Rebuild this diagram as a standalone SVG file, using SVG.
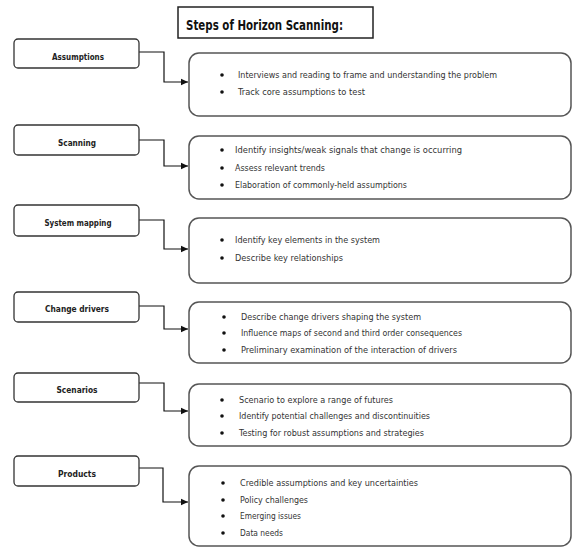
<svg xmlns="http://www.w3.org/2000/svg" width="574" height="548" viewBox="0 0 574 548">
<defs>
<marker id="ah" markerWidth="8" markerHeight="8" refX="7" refY="4" orient="auto" markerUnits="userSpaceOnUse">
<path d="M0,0.8 L7,4 L0,7.2 Z" fill="#111"/>
</marker>
<style>
.title{font-family:"DejaVu Sans Condensed","Liberation Sans Narrow","Liberation Sans",sans-serif;font-weight:bold;font-size:14px;fill:#111}
.tbox{fill:#fff;stroke:#222;stroke-width:1.5}
.lbox{fill:#fff;stroke:#333;stroke-width:1.3}
.cbox{fill:#fff;stroke:#555;stroke-width:1.5}
.lbl{font-family:"DejaVu Sans Condensed","Liberation Sans",sans-serif;font-weight:bold;font-size:9.5px;fill:#222;text-anchor:middle}
.txt{font-family:"DejaVu Sans Condensed","Liberation Sans",sans-serif;font-size:9.5px;fill:#333}
.bul{fill:#111}
.conn{fill:none;stroke:#111;stroke-width:1.2}
</style>
</defs>
<rect width="574" height="548" fill="#fff"/>
<g id="title">
<rect class="tbox" x="178" y="7" width="195" height="31"/>
<text class="title" x="186" y="30" textLength="157" lengthAdjust="spacingAndGlyphs">Steps of Horizon Scanning:</text>
</g>
<g id="connectors">
<path class="conn" d="M139,52 H164 V82 H188" marker-end="url(#ah)"/>
<path class="conn" d="M139,140 H164 V166 H188" marker-end="url(#ah)"/>
<path class="conn" d="M139,220 H164 V249 H188" marker-end="url(#ah)"/>
<path class="conn" d="M139,306 H164 V329 H188" marker-end="url(#ah)"/>
<path class="conn" d="M139,383 H164 V411 H188" marker-end="url(#ah)"/>
<path class="conn" d="M139,468 H163 V502 H188" marker-end="url(#ah)"/>
</g>
<g id="assumptions">
<rect class="lbox" x="14" y="39" width="125" height="29" rx="4"/>
<text class="lbl" x="78" y="60" textLength="52" lengthAdjust="spacingAndGlyphs">Assumptions</text>
</g>
<g id="assumptions-detail">
<rect class="cbox" x="189" y="53" width="382" height="63" rx="10"/>
<circle class="bul" cx="222" cy="75" r="1.8"/>
<circle class="bul" cx="222" cy="92" r="1.8"/>
<text class="txt" x="238" y="78" textLength="259" lengthAdjust="spacingAndGlyphs">Interviews and reading to frame and understanding  the problem</text>
<text class="txt" x="238" y="95" textLength="127" lengthAdjust="spacingAndGlyphs">Track core assumptions  to test</text>
</g>
<g id="scanning">
<rect class="lbox" x="14" y="125" width="125" height="30" rx="4"/>
<text class="lbl" x="77" y="146" textLength="38" lengthAdjust="spacingAndGlyphs">Scanning</text>
</g>
<g id="scanning-detail">
<rect class="cbox" x="189" y="136" width="382" height="63" rx="10"/>
<circle class="bul" cx="222" cy="150" r="1.8"/>
<circle class="bul" cx="222" cy="168" r="1.8"/>
<circle class="bul" cx="222" cy="185" r="1.8"/>
<text class="txt" x="235" y="153" textLength="227" lengthAdjust="spacingAndGlyphs">Identify insights/weak signals that change is occurring</text>
<text class="txt" x="235" y="171" textLength="90" lengthAdjust="spacingAndGlyphs">Assess relevant trends</text>
<text class="txt" x="235" y="188" textLength="172" lengthAdjust="spacingAndGlyphs">Elaboration of commonly-held  assumptions</text>
</g>
<g id="system-mapping">
<rect class="lbox" x="14" y="205" width="125" height="31" rx="4"/>
<text class="lbl" x="78" y="226" textLength="67" lengthAdjust="spacingAndGlyphs">System mapping</text>
</g>
<g id="system-mapping-detail">
<rect class="cbox" x="189" y="218" width="382" height="65" rx="10"/>
<circle class="bul" cx="222" cy="240" r="1.8"/>
<circle class="bul" cx="222" cy="258" r="1.8"/>
<text class="txt" x="235" y="243" textLength="145" lengthAdjust="spacingAndGlyphs">Identify key elements in the system</text>
<text class="txt" x="235" y="261" textLength="108" lengthAdjust="spacingAndGlyphs">Describe key relationships</text>
</g>
<g id="change-drivers">
<rect class="lbox" x="14" y="292" width="125" height="30" rx="4"/>
<text class="lbl" x="77" y="312" textLength="64" lengthAdjust="spacingAndGlyphs">Change drivers</text>
</g>
<g id="change-drivers-detail">
<rect class="cbox" x="189" y="302" width="382" height="61" rx="10"/>
<circle class="bul" cx="224" cy="317" r="1.8"/>
<circle class="bul" cx="224" cy="333" r="1.8"/>
<circle class="bul" cx="224" cy="350" r="1.8"/>
<text class="txt" x="241" y="320" textLength="180" lengthAdjust="spacingAndGlyphs">Describe change drivers shaping the system</text>
<text class="txt" x="241" y="336" textLength="221" lengthAdjust="spacingAndGlyphs">Influence maps of second and third order consequences</text>
<text class="txt" x="241" y="353" textLength="216" lengthAdjust="spacingAndGlyphs">Preliminary examination of the interaction of drivers</text>
</g>
<g id="scenarios">
<rect class="lbox" x="14" y="373" width="125" height="29" rx="4"/>
<text class="lbl" x="77" y="393" textLength="41" lengthAdjust="spacingAndGlyphs">Scenarios</text>
</g>
<g id="scenarios-detail">
<rect class="cbox" x="189" y="384" width="382" height="62" rx="10"/>
<circle class="bul" cx="222" cy="400" r="1.8"/>
<circle class="bul" cx="222" cy="416" r="1.8"/>
<circle class="bul" cx="222" cy="433" r="1.8"/>
<text class="txt" x="239" y="403" textLength="154" lengthAdjust="spacingAndGlyphs">Scenario to explore a range  of futures</text>
<text class="txt" x="239" y="419" textLength="191" lengthAdjust="spacingAndGlyphs">Identify potential challenges  and discontinuities</text>
<text class="txt" x="239" y="436" textLength="185" lengthAdjust="spacingAndGlyphs">Testing for robust  assumptions  and strategies</text>
</g>
<g id="products">
<rect class="lbox" x="14" y="456" width="125" height="30" rx="4"/>
<text class="lbl" x="77" y="477" textLength="38" lengthAdjust="spacingAndGlyphs">Products</text>
</g>
<g id="products-detail">
<rect class="cbox" x="189" y="466" width="382" height="80" rx="10"/>
<circle class="bul" cx="223" cy="483" r="1.8"/>
<circle class="bul" cx="223" cy="500" r="1.8"/>
<circle class="bul" cx="223" cy="516" r="1.8"/>
<circle class="bul" cx="223" cy="533" r="1.8"/>
<text class="txt" x="240" y="486" textLength="178" lengthAdjust="spacingAndGlyphs">Credible assumptions  and key uncertainties</text>
<text class="txt" x="240" y="503" textLength="68" lengthAdjust="spacingAndGlyphs">Policy challenges</text>
<text class="txt" x="240" y="519" textLength="61" lengthAdjust="spacingAndGlyphs">Emerging issues</text>
<text class="txt" x="240" y="536" textLength="43" lengthAdjust="spacingAndGlyphs">Data needs</text>
</g>
</svg>
